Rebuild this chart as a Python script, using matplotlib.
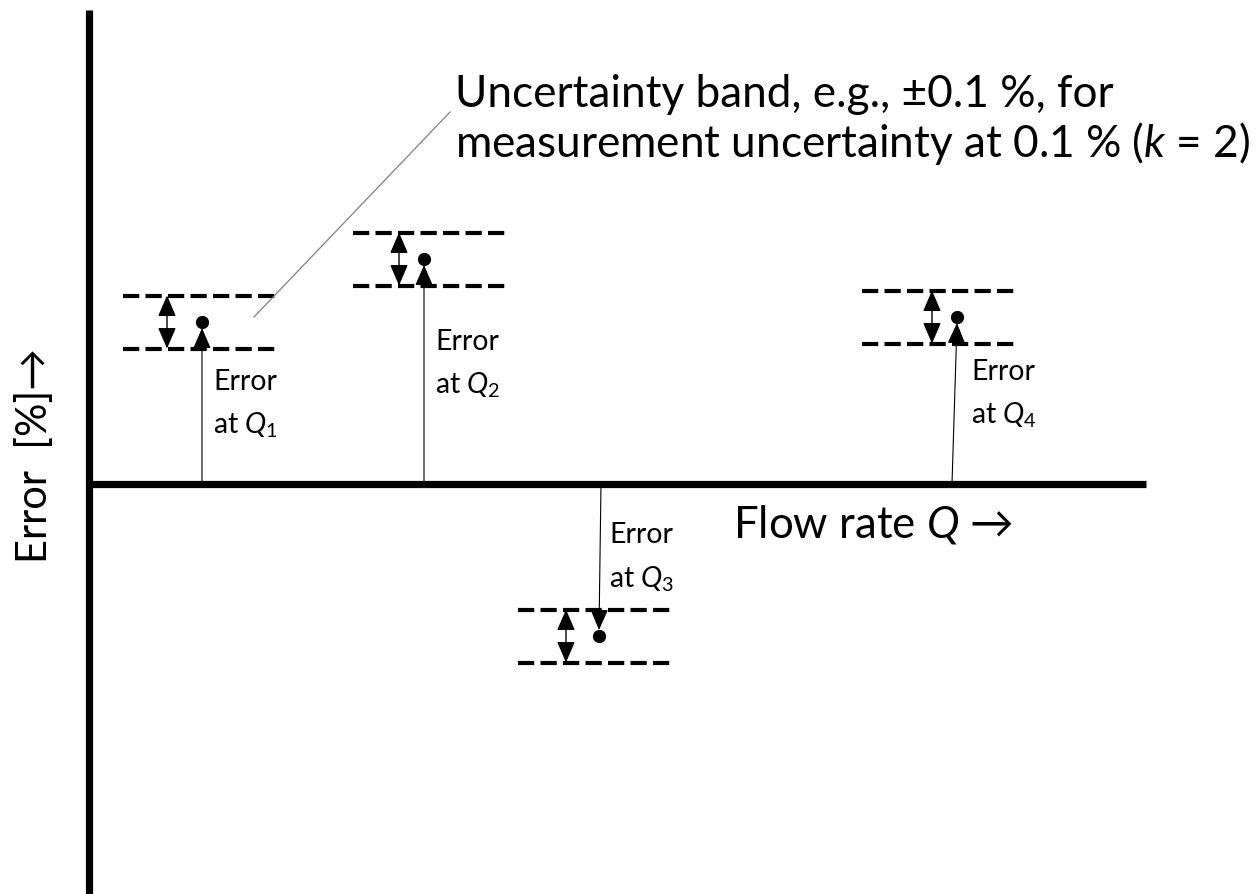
import matplotlib
matplotlib.use('Agg')
import matplotlib.pyplot as plt
from matplotlib.patches import FancyArrowPatch

plt.rcParams['font.family'] = ['Lato', 'DejaVu Sans']
plt.rcParams['mathtext.fontset'] = 'custom'
plt.rcParams['mathtext.rm'] = 'Lato'
plt.rcParams['mathtext.it'] = 'Lato:italic'

# schematic in arbitrary units: x = flow rate, y = error (0 on the flow axis)
point_names = ['1', '2', '3', '4']
flow = [202, 424, 599, 957]
error = [162, 225, -152, 167]
line_base = [202, 424, 601, 952]      # where each error line leaves the flow axis
band_left = [123, 353, 518, 862]
band_width = 155
band_half = 26.5
span_x = [167, 399, 566, 932]         # x of the double arrow showing the band
label_x = [213, 435, 609, 971]
label_y = [94, 134, -59, 104]         # baseline of the "Error" line

fig = plt.figure(figsize=(12.59, 8.94), dpi=100)
ax = fig.add_axes([0, 0, 1, 1])
ax.set_xlim(0, 1259)
ax.set_ylim(-410, 484)
ax.axis('off')

# axes of the sketch
ax.plot([89, 89], [-410, 474], color='black', lw=5.2, solid_capstyle='butt')
ax.plot([89, 1146], [0, 0], color='black', lw=5.2, solid_capstyle='butt')

head = '<|-|>,head_length=0.65,head_width=0.28'
for i in range(len(flow)):
    x, e = flow[i], error[i]
    sign = 1 if e > 0 else -1

    # uncertainty band
    for yb in (e + band_half, e - band_half):
        ax.plot([band_left[i], band_left[i] + band_width], [yb, yb], color='black',
                lw=3.0, linestyle=(0, (3.9, 1.5)), dash_capstyle='butt')

    # double arrow across the band
    ax.add_patch(FancyArrowPatch((span_x[i], e + band_half), (span_x[i], e - band_half),
                                 arrowstyle=head, mutation_scale=20, color='black',
                                 lw=1.0, shrinkA=0, shrinkB=0))

    # error arrow from the axis to the point
    ax.add_patch(FancyArrowPatch((line_base[i], 0), (x, e - sign * 6),
                                 arrowstyle='-|>,head_length=0.65,head_width=0.28',
                                 mutation_scale=20, color='black', lw=0.8,
                                 shrinkA=0, shrinkB=0))

    ax.text(label_x[i], label_y[i], 'Error', fontsize=20.5, va='baseline', ha='left')
    ax.text(label_x[i], label_y[i] - 44, 'at $Q_%s$' % point_names[i], fontsize=20.5,
            va='baseline', ha='left')

ax.plot(flow, error, 'o', color='black', ms=8.5)

# leader line to the band note
ax.plot([450, 254], [372, 167], color='#808080', lw=0.9)
ax.text(455, 377, 'Uncertainty band, e.g., \u00b10.1 %, for', fontsize=31.8,
        va='baseline', ha='left')
ax.text(455, 327, 'measurement uncertainty at 0.1 % ($k$ = 2)', fontsize=31.8,
        va='baseline', ha='left')

ax.text(733, -53, 'Flow rate $Q$ \u2192', fontsize=31.5, va='baseline', ha='left')
ax.text(47, -79, 'Error  [%]\u2192', fontsize=30, rotation=90, rotation_mode='anchor',
        va='baseline', ha='left')

fig.savefig('out.png', dpi=100)
